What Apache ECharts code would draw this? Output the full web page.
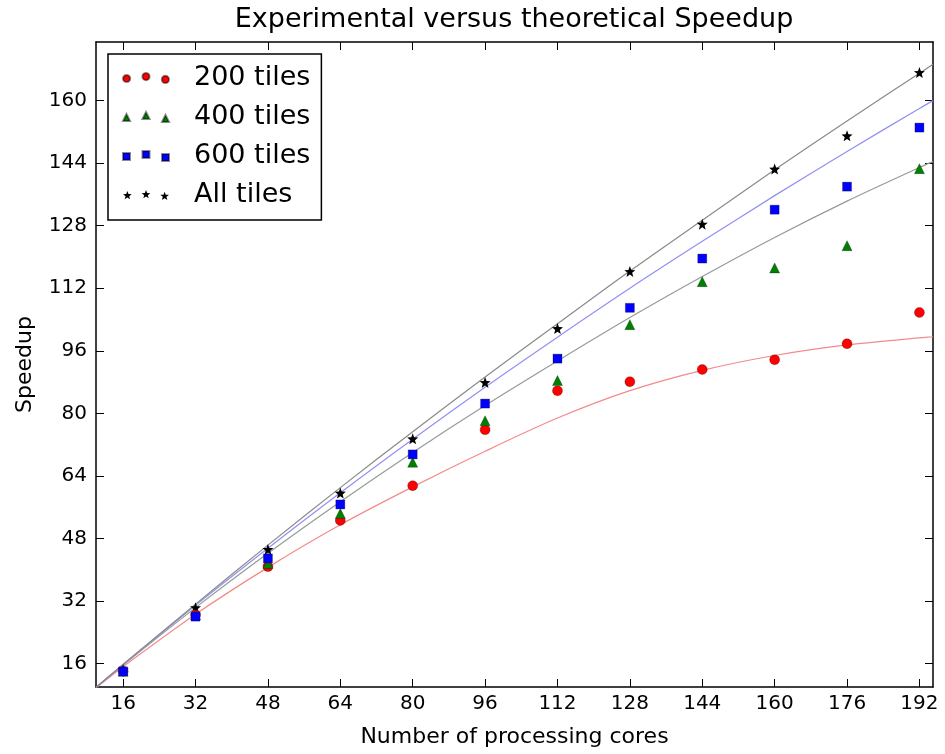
<!DOCTYPE html>
<html><head><meta charset="utf-8">
<script src="https://cdn.jsdelivr.net/npm/echarts@6/dist/echarts.min.js"></script>
<style>html,body{margin:0;padding:0;background:#fff}#c{width:945px;height:754px}</style>
</head><body><div id="c"></div>
<script>
// ---- data ----
const cores = [16, 32, 48, 64, 80, 96, 112, 128, 144, 160, 176, 192];
const tiles200 = [14.0, 28.5, 40.8, 52.6, 61.5, 75.8, 85.8, 88.1, 91.2, 93.7, 97.8, 105.8];
const tiles400 = [14.0, 28.5, 41.6, 54.4, 67.5, 78.1, 88.4, 102.7, 113.7, 117.2, 122.9, 142.6];
const tiles600 = [14.0, 28.0, 42.9, 56.7, 69.5, 82.5, 94.0, 107.0, 119.6, 132.1, 138.0, 153.1];
const tilesAll = [14.5, 30.3, 45.2, 59.6, 73.5, 87.9, 101.7, 116.3, 128.4, 142.5, 151.0, 167.2];

const curveX = [10, 16, 32, 48, 64, 80, 96, 112, 128, 144, 160, 176, 192, 195];
const theory200 = [9.8, 15.2, 28.6, 40.6, 51.5, 61.2, 70.3, 78.8, 85.8, 91.0, 94.8, 97.5, 99.3, 99.6];
const theory400 = [9.85, 15.6, 30.3, 44.2, 57.4, 70.0, 82.0, 93.4, 104.5, 115.0, 125.0, 134.3, 142.9, 144.4];
const theory600 = [9.9, 15.7, 30.9, 45.5, 59.7, 73.4, 86.7, 99.5, 112.0, 124.0, 135.7, 147.0, 158.0, 160.0];
const theoryAll = [9.95, 15.8, 31.2, 46.3, 61.0, 75.3, 89.3, 102.9, 116.4, 129.4, 142.3, 154.8, 167.0, 169.3];

const xTicks = [16, 32, 48, 64, 80, 96, 112, 128, 144, 160, 176, 192];
const yTicks = [16, 32, 48, 64, 80, 96, 112, 128, 144, 160];
const seriesNames = ['200 tiles', '400 tiles', '600 tiles', 'All tiles'];

// ---- helpers (geometry of marker glyphs only) ----
function starPath(cx, cy, R, r) {
  let s = '';
  for (let i = 0; i < 10; i++) {
    const a = -Math.PI / 2 + i * Math.PI / 5;
    const rad = i % 2 === 0 ? R : r;
    s += (i === 0 ? 'M' : 'L') + (cx + rad * Math.cos(a)).toFixed(2) + ',' + (cy + rad * Math.sin(a)).toFixed(2);
  }
  return s + 'Z';
}
const starSymbol = 'path://' + starPath(0, 0, 10, 4.2);
const iconCircle = 'path://M0,5.5a3.6,3.6 0 1,0 7.2,0a3.6,3.6 0 1,0 -7.2,0Z M19.4,3.6a3.6,3.6 0 1,0 7.2,0a3.6,3.6 0 1,0 -7.2,0Z M38.8,6.4a3.6,3.6 0 1,0 7.2,0a3.6,3.6 0 1,0 -7.2,0Z';
const iconTri = 'path://M0,9L3.5,2L7,9Z M19.5,7L23,0L26.5,7Z M39,10L42.5,3L46,10Z';
const iconRect = 'path://M0,2h7v7h-7Z M19.5,0h7v7h-7Z M39,3h7v7h-7Z';
const iconStar = 'path://' + starPath(4.37, 5.6, 4.6, 1.9) + ' ' + starPath(23, 4.6, 4.6, 1.9) + ' ' + starPath(41.63, 6.28, 4.6, 1.9);

const pairs = (xs, ys) => xs.map((x, i) => [x, ys[i]]);
const FONT = 'DejaVu Sans';
const edge = { borderColor: 'rgba(0,0,0,0.45)', borderWidth: 0.6, opacity: 1 };

function curve(name, ys, color) {
  return {
    name: name, type: 'line', data: pairs(curveX, ys), showSymbol: false, symbol: 'none',
    smooth: 0.3, lineStyle: { color: color, width: 1.2 },
    silent: true, z: 1, legendHoverLink: false
  };
}

const chart = echarts.init(document.getElementById('c'), null, { renderer: 'canvas' });
const axisCommon = {
  type: 'value', splitLine: { show: false },
  axisLine: { show: true, onZero: false, lineStyle: { color: '#000', width: 1.5 } },
  axisTick: { show: true, inside: true, length: 8, lineStyle: { color: '#000', width: 1 } }
};
chart.setOption({
  animation: false,
  backgroundColor: '#fff',
  textStyle: { fontFamily: FONT },
  title: {
    text: 'Experimental versus theoretical Speedup', left: 514, top: 6, textAlign: 'center', padding: 0,
    textStyle: { fontFamily: FONT, fontSize: 27, fontWeight: 'normal', color: '#000' }
  },
  grid: { left: 96, right: 12, top: 42, bottom: 67, containLabel: false },
  legend: {
    data: seriesNames.map((n, i) => ({ name: n, icon: [iconCircle, iconTri, iconRect, iconStar][i] })),
    orient: 'vertical', left: 108, top: 54,
    itemWidth: 46, itemHeight: 10, itemGap: 9,
    padding: [9, 11, 10, 14],
    backgroundColor: '#fff', borderColor: '#000', borderWidth: 1.5, borderRadius: 0,
    textStyle: { fontFamily: FONT, fontSize: 27, color: '#000', lineHeight: 30, padding: [0, 0, 0, 20] },
    selectedMode: false
  },
  xAxis: [
    Object.assign({}, axisCommon, {
      position: 'bottom', min: 10, max: 195,
      name: 'Number of processing cores', nameLocation: 'middle', nameGap: 39,
      nameTextStyle: { fontFamily: FONT, fontSize: 22, color: '#000' },
      axisTick: Object.assign({}, axisCommon.axisTick, { customValues: xTicks }),
      axisLabel: { customValues: xTicks, margin: 7, fontFamily: FONT, fontSize: 20, color: '#000' }
    }),
    Object.assign({}, axisCommon, {
      position: 'top', min: 10, max: 195,
      axisTick: Object.assign({}, axisCommon.axisTick, { customValues: xTicks }),
      axisLabel: { show: false }
    })
  ],
  yAxis: [
    Object.assign({}, axisCommon, {
      position: 'left', min: 10, max: 175,
      name: 'Speedup', nameLocation: 'middle', nameGap: 60,
      nameTextStyle: { fontFamily: FONT, fontSize: 22, color: '#000' },
      axisTick: Object.assign({}, axisCommon.axisTick, { customValues: yTicks }),
      axisLabel: { customValues: yTicks, margin: 9, fontFamily: FONT, fontSize: 20, color: '#000' }
    }),
    Object.assign({}, axisCommon, {
      position: 'right', min: 10, max: 175,
      axisTick: Object.assign({}, axisCommon.axisTick, { customValues: yTicks }),
      axisLabel: { show: false }
    })
  ],
  series: [
    curve('theory 200', theory200, '#f48a8a'),
    curve('theory 400', theory400, '#949c94'),
    curve('theory 600', theory600, '#9090f4'),
    curve('theory all', theoryAll, '#8a8a8a'),
    { name: 'All tiles', type: 'scatter', data: pairs(cores, tilesAll), symbol: starSymbol, symbolSize: 11,
      itemStyle: { color: '#000', opacity: 1 }, z: 2 },
    { name: '200 tiles', type: 'scatter', data: pairs(cores, tiles200), symbol: 'circle', symbolSize: 10,
      itemStyle: Object.assign({ color: '#ff0000' }, edge), z: 3 },
    { name: '400 tiles', type: 'scatter', data: pairs(cores, tiles400), symbol: 'triangle', symbolSize: 10,
      itemStyle: Object.assign({ color: '#008000' }, edge), z: 4 },
    { name: '600 tiles', type: 'scatter', data: pairs(cores, tiles600), symbol: 'rect', symbolSize: 9,
      itemStyle: Object.assign({ color: '#0000ff' }, edge), z: 5 }
  ]
});
</script>
</body></html>
